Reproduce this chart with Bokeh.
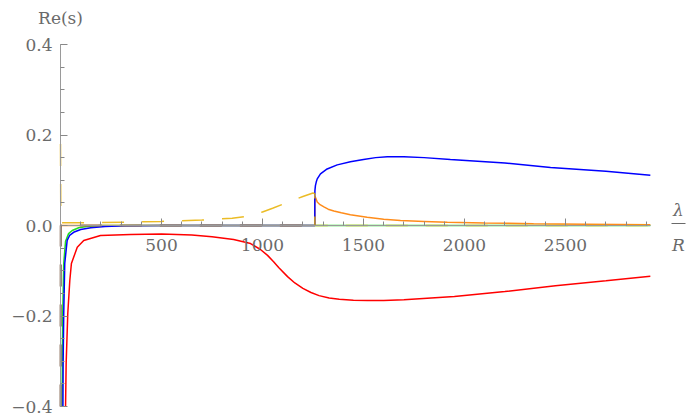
from bokeh.plotting import figure
from bokeh.models import Range1d, FixedTicker, CustomJSTickFormatter, Label
from bokeh.embed import file_html
from bokeh.resources import INLINE

# ---------------- data ----------------
blue_x = [12, 13, 16, 21, 33, 45, 65, 100, 150, 220, 320, 500, 1000, 1259, 1259, 1259.5, 1262, 1266,
          1271, 1287, 1320, 1370, 1435, 1500, 1560, 1618, 1700, 1800, 1930, 2200, 2426, 2700, 2920]
blue_y = [-0.40, -0.305, -0.195, -0.084, -0.033, -0.022, -0.015, -0.009, -0.005, -0.002, -0.0005, 0.0,
          0.0, 0.0, 0.065, 0.077, 0.088, 0.096, 0.103, 0.114, 0.125, 0.134, 0.141, 0.146, 0.150, 0.152,
          0.152, 0.150, 0.146, 0.138, 0.128, 0.120, 0.111]

green_x = [8, 9, 11, 16, 25, 40, 58, 90, 130, 200, 1259, 2920]
green_y = [-0.40, -0.30, -0.195, -0.084, -0.035, -0.018, -0.011, -0.005, -0.002, 0.0, 0.0, 0.0]

red_x = [25, 28, 36, 46, 54, 83, 115, 198, 347, 500, 650, 750, 857, 941, 990, 1025, 1055, 1080, 1124,
         1160, 1200, 1240, 1280, 1330, 1380, 1450, 1520, 1600, 1700, 1950, 2200, 2450, 2700, 2920]
red_y = [-0.40, -0.305, -0.195, -0.122, -0.084, -0.048, -0.033, -0.022, -0.020, -0.019, -0.021, -0.025,
         -0.031, -0.040, -0.053, -0.066, -0.080, -0.093, -0.113, -0.127, -0.139, -0.148, -0.155, -0.160,
         -0.163, -0.165, -0.166, -0.1655, -0.164, -0.157, -0.146, -0.133, -0.122, -0.112]

orange_x = [0, 1259, 1259, 1264, 1271, 1285, 1304, 1325, 1353, 1390, 1435, 1518, 1600, 1683, 1800, 1915,
            2100, 2342, 2600, 2920]
orange_y = [0.0, 0.0, 0.065, 0.060, 0.052, 0.046, 0.041, 0.036, 0.032, 0.028, 0.024, 0.018, 0.014,
            0.011, 0.009, 0.007, 0.0055, 0.004, 0.003, 0.0015]

yellow_x = [0, 1.5, 50, 200, 350, 500, 700, 850, 950, 1000, 1050, 1100, 1150, 1200, 1250, 1259, 1259, 2920]
yellow_y = [0.18, 0.006, 0.006, 0.0065, 0.0075, 0.009, 0.012, 0.016, 0.022, 0.030, 0.038, 0.047, 0.056,
            0.064, 0.072, 0.070, 0.0, 0.0]

brown_x = [0.5, 1.5, 1259]
brown_y = [-0.40, 0.0, 0.0]

x_major = [500, 1000, 1500, 2000, 2500]
x_minor = [v for v in range(100, 3000, 100) if v % 500 != 0]
y_major = [-0.4, -0.2, 0.0, 0.2, 0.4]
y_minor = [round(-0.4 + 0.05 * i, 2) for i in range(17)]

# ---------------- layout (pixel geometry of the reference) ----------------
W, H = 687, 419
X0_PX, XS = 60.0, 101.0 / 500.0      # px of x=0, px per unit
Y0_PX, YS = 225.0, 181.0 / 0.4       # px of y=0, px per unit

def dx(px):
    return (px - X0_PX) / XS

def dy(py):
    return (Y0_PX - py) / YS

p = figure(width=W, height=H, output_backend="svg", toolbar_location=None,
           x_range=Range1d(dx(0), dx(W)), y_range=Range1d(dy(H), dy(0)),
           min_border=0, min_border_left=0, min_border_right=0, min_border_top=0, min_border_bottom=0)
p.outline_line_color = None
p.grid.visible = False
p.background_fill_color = "white"
p.border_fill_color = "white"

FONT = "DejaVu Serif"
FS = "17px"
AX = "#9a9a9a"
LAB = "#6a6a6a"

xa = p.xaxis[0]
xa.fixed_location = 0
xa.bounds = (0, 2920)
xa.ticker = FixedTicker(ticks=x_major, minor_ticks=x_minor)
xa.axis_line_color = AX
xa.major_tick_line_color = "#888888"
xa.minor_tick_line_color = "#888888"
xa.major_tick_in = 7
xa.major_tick_out = 0
xa.minor_tick_in = 4
xa.minor_tick_out = 0
xa.major_label_standoff = 13
xa.major_label_text_font = FONT
xa.major_label_text_font_size = FS
xa.major_label_text_color = LAB

ya = p.yaxis[0]
ya.fixed_location = 0
ya.bounds = (-0.4, 0.4)
ya.ticker = FixedTicker(ticks=y_major, minor_ticks=y_minor)
ya.formatter = CustomJSTickFormatter(code="return (tick < -1e-9 ? '\\u2212' : '') + Math.abs(tick).toFixed(1);")
ya.axis_line_color = AX
ya.major_tick_line_color = "#888888"
ya.minor_tick_line_color = "#888888"
ya.major_tick_in = 7
ya.major_tick_out = 0
ya.minor_tick_in = 4
ya.minor_tick_out = 0
ya.major_label_standoff = 8
ya.major_label_text_font = FONT
ya.major_label_text_font_size = FS
ya.major_label_text_color = LAB

# ---------------- curves ----------------
LW = 1.5
p.line(green_x, green_y, line_color="#22dd22", line_width=LW)
p.line(red_x, red_y, line_color="#ff0000", line_width=LW)
p.line(orange_x, orange_y, line_color="#ff8c1a", line_width=LW)
p.line(blue_x, blue_y, line_color="#0000ff", line_width=LW)
p.line(brown_x, brown_y, line_color="#8c6f5c", line_width=2.2, line_dash="22 18")
p.line(yellow_x, yellow_y, line_color="#e8b000", line_width=LW, line_dash="22 18", line_alpha=0.85)

# ---------------- axis titles ----------------
p.add_layout(Label(x=0, y=dy(17), text="Re(s)", text_align="center", text_baseline="middle",
                   text_font=FONT, text_font_size=FS, text_color=LAB))
p.add_layout(Label(x=dx(678), y=dy(209), text="λ", text_align="center", text_baseline="middle",
                   text_font=FONT, text_font_style="italic", text_font_size=FS, text_color=LAB))
p.add_layout(Label(x=dx(678), y=dy(244), text="R", text_align="center", text_baseline="middle",
                   text_font=FONT, text_font_style="italic", text_font_size=FS, text_color=LAB))
p.segment(x0=[dx(671)], y0=[dy(223)], x1=[dx(685)], y1=[dy(223)], line_color=LAB, line_width=1)

open("out.html", "w").write(file_html(p, INLINE))
